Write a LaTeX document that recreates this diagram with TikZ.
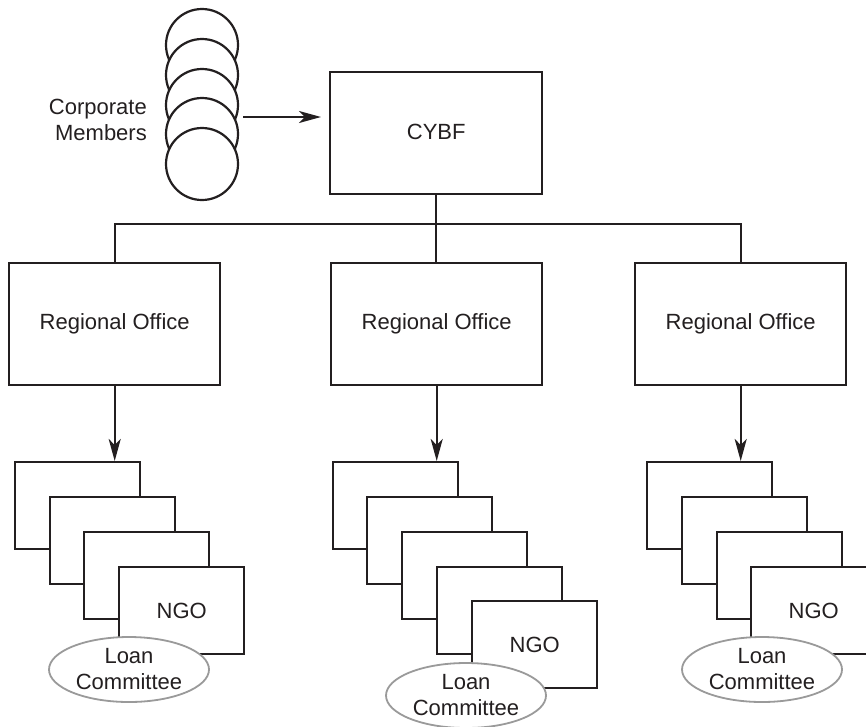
\documentclass[tikz,border=0pt]{standalone}
\usepackage{fontspec}
\setmainfont{Liberation Sans}
\usetikzlibrary{arrows.meta,shapes.geometric}
\definecolor{ink}{HTML}{231F20}
\definecolor{rim}{HTML}{9A9A9A}
\begin{document}
\begin{tikzpicture}[x=1pt,y=-1pt,line width=2.4pt,draw=ink,text=ink,
  font=\fontsize{22}{26}\selectfont,
  member/.style={circle,draw,line width=2.2pt,fill=white,minimum size=72pt,inner sep=0pt},
  box/.style={draw,fill=white,inner sep=0pt,anchor=north west},
  bigbox/.style={box,minimum width=211pt,minimum height=122pt},
  card/.style={box,minimum width=125pt,minimum height=87pt},
  loan/.style={ellipse,draw=rim,line width=1.8pt,fill=white,minimum width=160pt,
    minimum height=65pt,inner sep=0pt,align=center},
  txt/.style={inner sep=0pt},
  arr/.style={line width=2.2pt,-{Stealth[length=22pt,width=12pt,inset=6pt]}}]
\useasboundingbox (0,0) rectangle (866,726);
\clip (0,0) rectangle (866,726);
% corporate members
\foreach \i/\y in {1/45,2/75,3/105,4/134,5/164}
  \node[member] (c\i) at (202,\y) {};
\node[txt,anchor=east,align=right] (corp) at (148,120) {Corporate\\Members};
% CYBF
\node[box,minimum width=212pt,minimum height=122pt] (cybf) at (329,71) {\raisebox{2pt}{CYBF}};
\coordinate (m1) at (243,117);
\coordinate (m2) at (321,117);
\draw[arr] (m1) -- (m2);
% regional offices
\node[bigbox] (ro1) at (8,262) {\raisebox{3pt}{Regional Office}};
\node[bigbox] (ro2) at (330,262) {\raisebox{4pt}{Regional Office}};
\node[bigbox] (ro3) at (634,262) {\raisebox{4pt}{Regional Office}};
\coordinate (bus) at (0,224);
\draw (cybf.south) -- (cybf.south |- ro2.north);
\draw (ro1.north) |- (cybf.south |- bus) -| (ro3.north);
% left stack
\node[card] (l1) at (14,461) {};
\node[card] (l2) at (49,496) {};
\node[card] (l3) at (83,531) {};
\node[card] (l4) at (118,566) {NGO};
% middle stack
\node[card] (m1b) at (332,461) {};
\node[card] (m2b) at (366,496) {};
\node[card] (m3b) at (401,531) {};
\node[card] (m4b) at (436,566) {};
\node[card] (m5b) at (471,600) {NGO};
% right stack
\node[card] (r1) at (646,461) {};
\node[card] (r2) at (681,496) {};
\node[card] (r3) at (716,531) {};
\node[card] (r4) at (750,566) {NGO};
% arrows down
\draw[arr] (ro1.south) -- (ro1.south |- l1.north);
\draw[arr] (ro2.south) -- (ro2.south |- m1b.north);
\draw[arr] (ro3.south) -- (ro3.south |- r1.north);
% loan committees
\node[loan] (e1) at (129,669.5) {Loan\\Committee};
\node[loan] (e2) at (466,695.5) {Loan\\Committee};
\node[loan] (e3) at (762,669.5) {Loan\\Committee};
\end{tikzpicture}
\end{document}
